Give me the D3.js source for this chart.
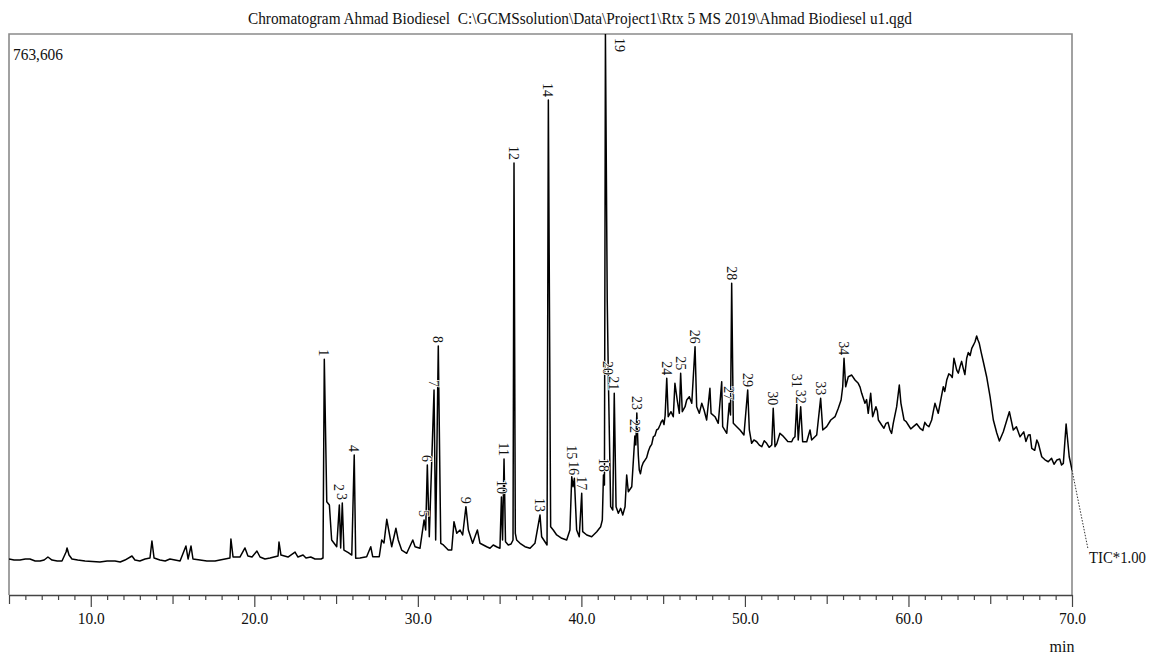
<!DOCTYPE html>
<html>
<head>
<meta charset="utf-8">
<script src="https://cdn.jsdelivr.net/npm/d3@7"></script>
<style>
  body{margin:0;background:#fff;}
  svg{display:block;font-family:"Liberation Serif","Times New Roman",serif;}
</style>
</head>
<body>
<div id="chart"></div>
<script>
// TIC trace: [retention time (min), intensity (x1000 counts)]
var tic = [
  [5.00,49.0],[5.31,47.6],[5.67,47.6],[6.00,49.0],[6.28,49.0],[6.60,46.3],[6.90,46.3],[7.15,47.6],[7.38,51.7],[7.63,47.6],
  [7.95,46.3],[8.24,46.3],[8.49,58.5],[8.55,64.0],[8.67,54.4],[8.85,49.0],[9.20,47.6],[9.65,46.3],[10.10,45.6],[10.56,44.9],
  [11.00,46.3],[11.48,46.3],[11.80,44.9],[12.09,47.6],[12.52,53.1],[12.70,47.6],[13.00,46.3],[13.32,49.0],[13.62,50.4],[13.74,73.5],
  [13.87,50.4],[14.23,47.6],[14.55,46.3],[14.84,49.0],[15.15,47.6],[15.46,46.3],[15.82,66.7],[15.95,49.0],[16.13,66.7],[16.25,49.0],
  [16.68,47.6],[17.10,46.3],[17.60,46.3],[17.90,47.6],[18.21,49.0],[18.51,50.4],[18.57,76.2],[18.70,51.7],[19.12,51.7],[19.43,64.0],
  [19.61,53.1],[19.86,51.7],[20.16,59.9],[20.35,51.7],[20.65,49.0],[20.96,50.4],[21.45,53.1],[21.51,72.1],[21.63,54.4],[22.06,51.7],
  [22.49,58.5],[22.67,51.7],[22.98,54.4],[23.16,50.4],[23.45,51.7],[23.71,49.0],[24.08,49.0],[24.20,50.4],
  [24.28,320.8],[24.43,127.0],[24.59,122.5],[24.73,74.9],[25.04,65.7],[25.20,122.5],[25.28,64.0],[25.38,125.2],[25.48,61.2],[25.75,57.6],
  [25.96,54.4],[26.11,190.5],[26.20,49.9],[26.46,50.4],[26.87,52.1],[27.12,65.7],[27.24,52.1],[27.64,52.1],[27.79,74.9],[27.93,70.8],
  [28.10,103.0],[28.25,84.4],[28.40,65.7],[28.66,90.8],[28.80,74.9],[29.01,61.2],[29.32,56.8],[29.69,74.9],[29.83,65.7],[30.13,63.6],
  [30.38,102.1],[30.48,88.5],[30.58,176.9],[30.70,79.3],[30.99,279.0],[31.09,74.9],[31.25,338.9],[31.40,70.4],[31.56,68.1],[31.86,61.2],
  [32.07,61.2],[32.21,99.8],[32.38,84.0],[32.58,88.5],[32.74,81.7],[32.94,120.2],[33.09,88.5],[33.35,70.4],[33.64,88.5],[33.80,70.4],
  [34.21,65.7],[34.41,63.6],[34.61,68.1],[34.84,65.3],[35.02,63.6],[35.11,133.4],[35.18,74.9],[35.27,185.1],[35.36,72.5],[35.53,68.1],
  [35.70,69.4],[35.82,74.9],[35.88,588.0],[35.96,84.0],[36.04,74.9],[36.25,70.4],[36.55,65.7],[36.86,63.6],[37.16,70.4],[37.47,108.9],
  [37.57,79.3],[37.77,72.5],[37.90,68.1],[37.98,673.7],[38.12,93.0],[38.28,88.5],[38.49,81.7],[38.80,77.2],[39.10,74.9],[39.30,88.5],
  [39.41,161.0],[39.49,147.4],[39.57,158.8],[39.71,88.5],[39.87,79.3],[40.02,138.4],[40.08,86.2],[40.33,81.7],[40.63,79.3],[40.94,86.2],
  [41.18,93.0],[41.28,102.1],[41.35,163.3],[41.41,149.7],[41.47,763.6],[41.58,401.5],[41.65,295.3],[41.79,120.2],[41.92,115.7],[42.01,274.5],
  [42.12,120.2],[42.26,111.2],[42.40,118.0],[42.53,108.9],[42.67,120.2],[42.77,163.3],[42.87,140.6],[43.08,147.4],[43.27,216.4],[43.33,204.2],
  [43.39,247.7],[43.48,190.5],[43.54,170.1],[43.61,165.0],[43.69,174.6],[43.78,180.0],[43.89,183.7],[43.99,187.0],[44.10,196.0],[44.20,201.8],
  [44.30,205.0],[44.40,215.4],[44.50,217.0],[44.60,224.6],[44.70,226.0],[44.81,231.4],[44.89,236.0],[44.97,238.2],[45.05,232.0],[45.12,244.0],
  [45.22,294.9],[45.31,242.7],[45.48,249.5],[45.62,242.7],[45.72,288.1],[45.86,265.4],[45.99,247.3],[46.07,301.7],[46.17,249.5],[46.34,256.3],
  [46.44,265.4],[46.60,269.9],[46.75,260.9],[46.95,337.9],[47.05,256.3],[47.21,247.3],[47.36,260.9],[47.50,251.8],[47.66,238.2],[47.86,281.3],
  [47.93,247.3],[48.17,242.7],[48.37,233.7],[48.58,290.3],[48.64,229.1],[48.89,220.1],[49.04,260.9],[49.12,245.0],[49.19,424.2],[49.29,233.7],
  [49.50,229.1],[49.70,224.6],[49.94,217.8],[50.17,279.0],[50.27,224.6],[50.41,206.5],[50.55,211.0],[50.72,208.6],[50.88,204.0],[51.03,201.8],
  [51.18,210.0],[51.33,206.5],[51.48,201.0],[51.64,204.2],[51.73,254.1],[51.84,201.8],[51.95,206.0],[52.14,220.1],[52.30,217.0],[52.45,213.3],
  [52.62,209.0],[52.86,208.6],[52.95,213.0],[53.06,215.4],[53.17,260.9],[53.26,211.0],[53.41,256.3],[53.53,208.6],[53.78,208.6],[53.98,224.6],
  [54.08,211.0],[54.39,217.8],[54.63,267.7],[54.76,224.6],[55.00,229.1],[55.25,238.2],[55.51,242.7],[55.71,254.1],[55.88,265.4],[55.98,283.5],
  [56.06,322.2],[56.16,283.5],[56.32,297.1],[56.53,299.4],[56.73,292.6],[56.93,288.1],[57.04,283.0],[57.14,274.5],[57.34,260.9],[57.44,266.0],
  [57.54,247.3],[57.69,274.5],[57.81,242.7],[58.01,256.3],[58.10,250.0],[58.16,238.2],[58.36,231.4],[58.50,227.0],[58.63,233.7],[58.75,235.0],
  [58.87,224.6],[58.97,220.0],[59.07,233.7],[59.28,256.3],[59.44,285.8],[59.54,260.9],[59.73,238.2],[59.86,236.0],[59.99,231.4],[60.14,226.0],
  [60.30,229.1],[60.50,233.0],[60.71,226.9],[60.88,224.0],[61.00,235.0],[61.11,231.4],[61.25,229.0],[61.42,238.2],[61.52,250.0],[61.62,260.9],
  [61.82,247.3],[62.13,283.5],[62.22,277.0],[62.34,292.6],[62.47,301.0],[62.58,299.4],[62.68,296.0],[62.78,322.2],[62.87,314.0],[62.95,306.2],
  [63.05,302.0],[63.15,310.7],[63.25,318.0],[63.35,308.5],[63.45,300.0],[63.56,322.2],[63.66,330.0],[63.77,326.0],[63.87,335.8],[63.97,340.0],
  [64.07,344.7],[64.17,352.5],[64.25,347.0],[64.33,342.6],[64.45,330.0],[64.58,317.1],[64.78,297.1],[64.99,269.9],[65.19,238.2],[65.40,220.5],
  [65.56,209.6],[65.80,222.3],[66.17,249.5],[66.41,224.6],[66.60,229.0],[66.82,215.4],[67.05,222.0],[67.18,209.0],[67.33,217.8],[67.44,218.0],
  [67.54,199.7],[67.72,197.0],[67.85,211.0],[67.94,206.5],[68.15,188.2],[68.35,184.0],[68.55,181.4],[68.75,186.0],[68.90,178.0],[69.07,183.7],
  [69.25,185.0],[69.36,177.0],[69.47,179.2],[69.64,232.7],[69.83,188.2],[69.98,172.4],[70.00,170.0]
];

// numbered peaks and their retention times (min)
var peakNumbers = [1,2,3,4,5,6,7,8,9,10,11,12,13,14,15,16,17,18,19,20,21,22,23,24,25,26,27,28,29,30,31,32,33,34];
var peakTimes = [24.28,25.20,25.38,26.11,30.38,30.58,30.99,31.25,32.94,35.11,35.27,35.88,37.47,37.98,39.41,39.57,40.02,
                 41.35,41.47,41.65,42.01,43.27,43.39,45.22,46.07,46.95,49.04,49.19,50.17,51.73,53.17,53.41,54.63,56.06];

var xLabelTicks = [10,20,30,40,50,60,70];
var timeRange = [5, 70];
var yMaxCounts = 763606;
var title = 'Chromatogram Ahmad Biodiesel  C:\\GCMSsolution\\Data\\Project1\\Rtx 5 MS 2019\\Ahmad Biodiesel u1.qgd';
var traceName = 'TIC*1.00';

(function(){
    var W = 1151, H = 655
      , plot = {left: 9, right: 1072, top: 34, bottom: 595};

    var svg = d3.select('#chart').append('svg')
                .attr('width', W).attr('height', H)
                .attr('viewBox', '0 0 ' + W + ' ' + H);

    var x = d3.scaleLinear().domain(timeRange).range([plot.left, plot.right])
      , y = d3.scaleLinear().domain([0, yMaxCounts / 1000]).range([plot.bottom, plot.top]);

    // title
    svg.append('text')
        .attr('x', 248).attr('y', 24)
        .attr('textLength', 664).attr('lengthAdjust', 'spacingAndGlyphs')
        .style('white-space', 'pre')
        .attr('font-size', 17).attr('fill', '#111')
        .text(title);

    // frame
    svg.append('path')
        .attr('d', 'M' + plot.left + ',' + plot.bottom + 'V' + plot.top + 'H' + plot.right + 'V' + plot.bottom)
        .attr('fill', 'none').attr('stroke', '#8a8a8a').attr('stroke-width', 1.6);

    svg.append('text')
        .attr('x', 13).attr('y', 60)
        .attr('font-size', 17).attr('fill', '#111')
        .attr('textLength', 50).attr('lengthAdjust', 'spacingAndGlyphs')
        .text(d3.format(',')(yMaxCounts));

    // x axis, minor tick every minute
    var xAxis = d3.axisBottom(x)
        .tickValues(d3.range(timeRange[0], timeRange[1] + 1, 1))
        .tickSize(12).tickSizeOuter(0).tickPadding(5)
        .tickFormat(function(d){ return xLabelTicks.indexOf(d) >= 0 ? d3.format('.1f')(d) : ''; });

    var gx = svg.append('g').attr('transform', 'translate(0,' + plot.bottom + ')').call(xAxis);
    gx.select('.domain').attr('stroke', '#444').attr('stroke-width', 1.4);
    gx.selectAll('.tick line')
        .attr('stroke', '#444').attr('stroke-width', 1.2)
        .attr('y2', function(d){ return d % 10 === 0 ? 12 : (d % 5 === 0 ? 9 : 5); });
    gx.selectAll('.tick text')
        .attr('font-family', '"Liberation Serif","Times New Roman",serif')
        .attr('font-size', 17).attr('fill', '#111')
        .filter(function(d){ return xLabelTicks.indexOf(d) >= 0; })
        .attr('textLength', 27).attr('lengthAdjust', 'spacingAndGlyphs');

    svg.append('text')
        .attr('x', 1062).attr('y', 652).attr('text-anchor', 'middle')
        .attr('font-size', 16).attr('fill', '#111')
        .text('min');

    // trace
    svg.append('clipPath').attr('id', 'plotclip')
        .append('rect').attr('x', plot.left).attr('y', plot.top)
        .attr('width', plot.right - plot.left).attr('height', plot.bottom - plot.top);

    var line = d3.line()
        .x(function(d){ return x(d[0]); })
        .y(function(d){ return y(d[1]); });

    svg.append('path').datum(tic)
        .attr('clip-path', 'url(#plotclip)')
        .attr('d', line)
        .attr('fill', 'none').attr('stroke', '#000')
        .attr('stroke-width', 1.5).attr('stroke-linejoin', 'round');

    // peak labels
    var labels = peakNumbers.map(function(n, i){
        var t = peakTimes[i]
          , apex = d3.max(tic.filter(function(p){ return Math.abs(p[0] - t) < 0.04; }), function(p){ return p[1]; })
          , len = String(n).length * 7;
        return {n: n, x: x(t), y: y(apex) - 3, len: len, off: apex >= yMaxCounts / 1000 - 0.5};
    });
    // stack a label above its neighbour when the two would overprint
    for (var i = labels.length - 2; i >= 0; i--) {
        var a = labels[i], b = labels[i + 1];
        if (!a.off && !b.off && Math.abs(a.x - b.x) < 5
              && a.y - a.len < b.y + 2 && a.y > b.y - b.len - 2)
            a.y = b.y - b.len - 2;
    }

    svg.append('g').classed('peaklabels', true)
        .selectAll('text').data(labels).enter().append('text')
        .attr('transform', function(d){
            return d.off ? 'translate(' + [d.x + 14, plot.top + 4] + ') rotate(90)'
                         : 'translate(' + [d.x, d.y] + ') rotate(90)';
        })
        .attr('text-anchor', function(d){ return d.off ? 'start' : 'end'; })
        .attr('dy', '0.35em')
        .attr('font-size', 14).attr('fill', '#111')
        .attr('stroke', '#fff').attr('stroke-width', 1.5)
        .attr('paint-order', 'stroke')
        .text(function(d){ return d.n; });

    // trace name with dotted leader from the trace end
    var last = tic[tic.length - 1];
    svg.append('line')
        .attr('x1', x(last[0])).attr('y1', y(last[1]))
        .attr('x2', 1088).attr('y2', 549)
        .attr('stroke', '#333').attr('stroke-width', 1)
        .attr('stroke-dasharray', '1.5,1.5');

    svg.append('text')
        .attr('x', 1089).attr('y', 563)
        .attr('font-size', 16).attr('fill', '#111')
        .attr('textLength', 57).attr('lengthAdjust', 'spacingAndGlyphs')
        .text(traceName);
})();
</script>
</body>
</html>
